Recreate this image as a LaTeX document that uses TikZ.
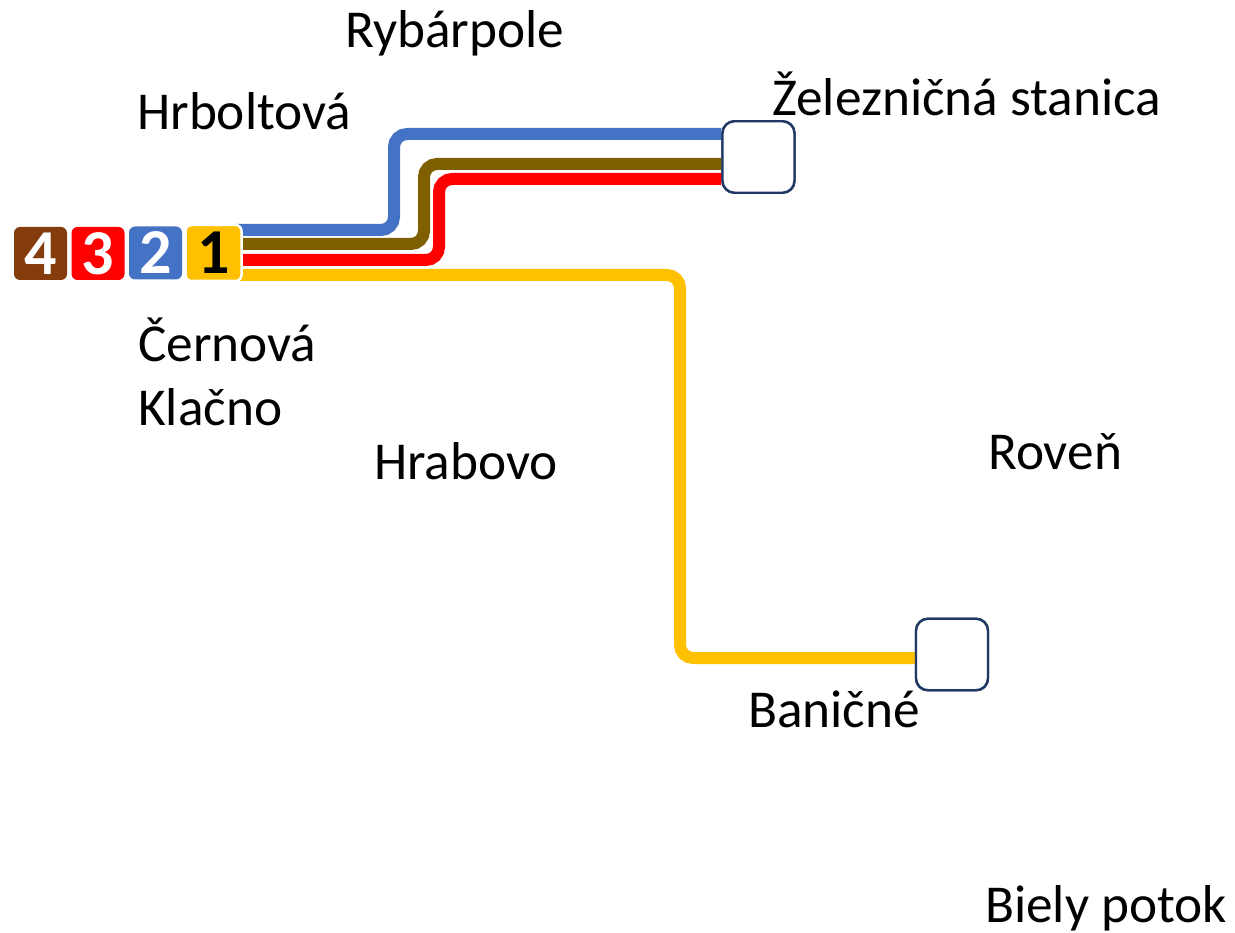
\documentclass[tikz,border=0pt]{standalone}
\usepackage{fontspec}
\setmainfont{Carlito}
\definecolor{cblue}{HTML}{4472C4}
\definecolor{cbrown}{HTML}{7F6000}
\definecolor{cred}{HTML}{FF0000}
\definecolor{cyel}{HTML}{FFC000}
\definecolor{cdark}{HTML}{843C0C}
\definecolor{cnavy}{HTML}{1F3864}
\tikzset{
 lbl/.style={anchor=base west,inner sep=0pt,font=\fontsize{53.3}{53.3}\selectfont,text=black},
 badge/.style={rounded corners=6pt,minimum width=53pt,minimum height=53pt,inner sep=0pt,font=\fontsize{64}{64}\selectfont\bfseries,text=white},
 stn/.style={draw=cnavy,line width=2.4pt,fill=white,rounded corners=12pt,minimum width=72pt,minimum height=71.5pt,inner sep=0pt},
 route/.style={line width=12pt,rounded corners=13pt}
}
\begin{document}
\begin{tikzpicture}[x=1pt,y=-1pt]
\useasboundingbox (0,0) rectangle (1235,933);
\fill[white] (0,0) rectangle (1235,933);
\node[stn] (st1) at (758.5,157) {};
\node[stn] (st2) at (952,654.5) {};
\coordinate (b1east) at (236,253);
\draw[route,cblue] (st1.west |- 0,134) -- (394,134) -- (394,230) -- (b1east |- 0,230);
\draw[route,cbrown] (st1.west |- 0,164) -- (424,164) -- (424,244) -- (b1east |- 0,244);
\draw[route,cred] (st1.west |- 0,179) -- (439,179) -- (439,260) -- (b1east |- 0,260);
\draw[route,cyel] (st2.west |- 0,658) -- (680,658) -- (680,275) -- (b1east |- 0,275);
\node[stn] at (st1) {};
\node[stn] at (st2) {};
\node[badge,fill=cdark] (b4) at (40.5,253.5) {4};
\node[badge,fill=cred] (b3) at (98,253.5) {3};
\node[badge,fill=cblue] (b2) at (155.5,253) {2};
\node[badge,fill=cyel,draw=white,line width=2.5pt,text=black,minimum width=56pt,minimum height=56pt] (b1) at (213.5,253) {1};
\node[lbl] (a) at (345,48) {Rybárpole};
\node[lbl] (b) at (137,130) {Hrboltová};
\node[lbl] (c) at (772,116) {Železničná stanica};
\node[lbl] (d) at (138,362) {Černová};
\node[lbl] (e) at (138,425) {Klačno};
\node[lbl] (f) at (374,479) {Hrabovo};
\node[lbl] (g) at (988,469) {Roveň};
\node[lbl] (h) at (748,727) {Baničné};
\node[lbl] (i) at (985,922) {Biely potok};
\end{tikzpicture}
\end{document}
